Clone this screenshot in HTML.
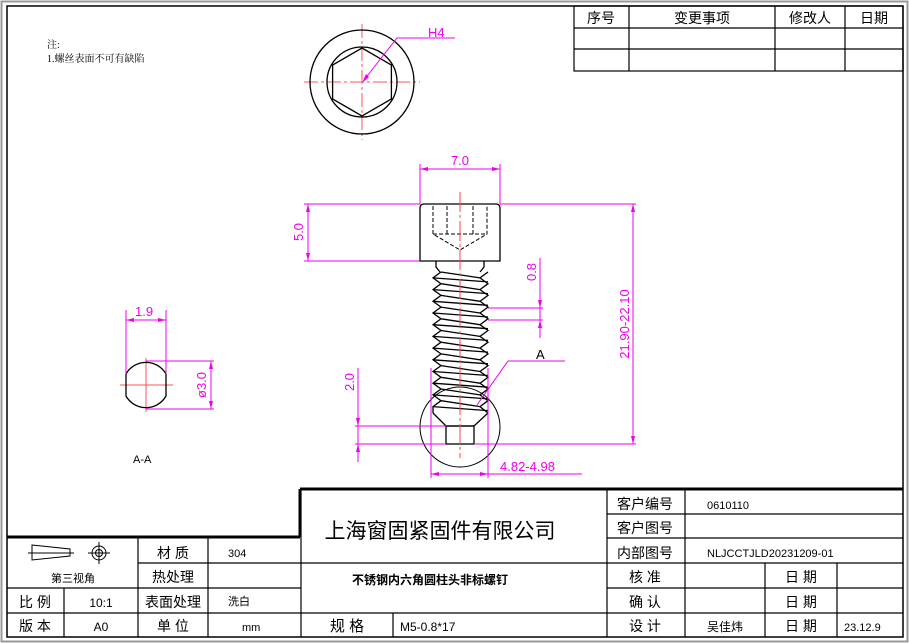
<!DOCTYPE html>
<html><head><meta charset="utf-8"><style>
html,body{margin:0;padding:0;background:#fff}
svg{display:block}
text{font-family:"Liberation Sans","Noto Sans CJK SC",sans-serif}
.cn{font-family:"Liberation Serif","Noto Serif CJK SC","Noto Sans CJK SC",serif}
</style></head><body>
<svg id="s" width="909" height="643" viewBox="0 0 909 643" xmlns="http://www.w3.org/2000/svg">
<rect x="1.5" y="1.5" width="906" height="640" fill="none" stroke="#999" stroke-width="2"/>
<rect x="7" y="6" width="896" height="631" fill="none" stroke="#000" stroke-width="1.5"/>
<text x="47" y="48" font-size="10" class="cn">注:</text>
<text x="47" y="62" font-size="10" class="cn">1.螺丝表面不可有缺陷</text>
<g stroke="#000" stroke-width="1.2" fill="none">
<rect x="574" y="6" width="329" height="65"/>
<line x1="574" y1="28" x2="903" y2="28"/><line x1="574" y1="49" x2="903" y2="49"/>
<line x1="629" y1="6" x2="629" y2="71"/><line x1="775" y1="6" x2="775" y2="71"/><line x1="845" y1="6" x2="845" y2="71"/>
</g>
<g font-size="14" text-anchor="middle" class="cn">
<text x="601" y="23">序号</text><text x="702" y="23">变更事项</text><text x="810" y="23">修改人</text><text x="874" y="23">日期</text>
</g>
<g stroke="#f55" stroke-width="1" fill="none" stroke-dasharray="14,3,3,3">
<line x1="304" y1="82" x2="420" y2="82"/><line x1="362" y1="24" x2="362" y2="140"/>
</g>
<g stroke="#000" stroke-width="1.3" fill="none">
<circle cx="362" cy="82" r="52"/><circle cx="362" cy="82" r="35"/>
<polygon points="362,48 391.4,65 391.4,99 362,116 332.6,99 332.6,65"/>
</g>
<polyline points="364,80 397,38 455,38" stroke="#e0e" fill="none"/>
<polygon points="362,83 366,74 369,77" fill="#e0e"/>
<text x="428" y="37" font-size="13" fill="#e0e">H4</text>
<g id="main" stroke="#000" stroke-width="1.3" fill="none">
<path d="M424,204 L496,204 Q500,204 500,208 L500,261 L420,261 L420,208 Q420,204 424,204 Z"/>
<g stroke-dasharray="4,2" stroke-width="1"><path d="M433,206 V234 L460,250 L487,234 V206 M447,206 V234 M473,206 V234 M433,234 H487"/></g>
<path d="M436,261 L436,267 L440,272 M484,261 L484,267 L480,272"/>
<path d="M433,413 L446,426 L474,426 L488,413"/>
<rect x="446" y="426" width="28" height="18"/>
<circle cx="460" cy="427" r="40" stroke-width="1"/>
</g>
<line x1="460" y1="192" x2="460" y2="458" stroke="#f44" stroke-dasharray="20,3,3,3"/>
<g stroke="#f55" fill="none"><line x1="120" y1="385" x2="173" y2="385"/><line x1="146" y1="358" x2="146" y2="412"/></g>
<path d="M126,374 A23,23 0 0 1 166,374 L166,396 A23,23 0 0 1 126,396 Z" fill="none" stroke="#000" stroke-width="1.3"/>
<text x="133" y="463" font-size="11">A-A</text>
<g stroke="#e0e" stroke-width="1" fill="none">
<line x1="420" y1="164" x2="420" y2="204"/><line x1="500" y1="164" x2="500" y2="204"/><line x1="420" y1="169" x2="500" y2="169"/>
<line x1="304" y1="204" x2="420" y2="204"/><line x1="304" y1="261" x2="420" y2="261"/><line x1="308" y1="204" x2="308" y2="261"/>
<line x1="500" y1="204" x2="636" y2="204"/><line x1="474" y1="444" x2="636" y2="444"/><line x1="633" y1="204" x2="633" y2="444"/>
<line x1="488" y1="308" x2="543" y2="308"/><line x1="488" y1="320" x2="543" y2="320"/><line x1="540" y1="258" x2="540" y2="338"/>
<line x1="355" y1="426" x2="446" y2="426"/><line x1="355" y1="444" x2="446" y2="444"/><line x1="358" y1="368" x2="358" y2="462"/>
<line x1="431" y1="368" x2="431" y2="478"/><line x1="488" y1="368" x2="488" y2="478"/><line x1="431" y1="474" x2="582" y2="474"/>
<polyline points="477,405 508,361 565,361"/>
<line x1="126" y1="310" x2="126" y2="374"/><line x1="166" y1="310" x2="166" y2="374"/><line x1="126" y1="320" x2="166" y2="320"/>
<line x1="146" y1="361" x2="214" y2="361"/><line x1="146" y1="409" x2="214" y2="409"/><line x1="211" y1="361" x2="211" y2="409"/>
</g>
<g fill="#e0e">
<polygon points="420,169 428,167 428,171"/><polygon points="500,169 492,167 492,171"/>
<polygon points="308,204 306,212 310,212"/><polygon points="308,261 306,253 310,253"/>
<polygon points="633,204 631,212 635,212"/><polygon points="633,444 631,436 635,436"/>
<polygon points="540,308 538,300 542,300"/><polygon points="540,320 538,328 542,328"/>
<polygon points="358,426 356,418 360,418"/><polygon points="358,444 356,452 360,452"/>
<polygon points="431,474 439,472 439,476"/><polygon points="488,474 480,472 480,476"/>
<polygon points="126,320 134,318 134,322"/><polygon points="166,320 158,318 158,322"/>
<polygon points="211,361 209,369 213,369"/><polygon points="211,409 209,401 213,401"/>
</g>
<g fill="#e0e" font-size="13">
<text x="460" y="165" text-anchor="middle">7.0</text>
<text transform="translate(303,232) rotate(-90)" text-anchor="middle">5.0</text>
<text transform="translate(629,324) rotate(-90)" text-anchor="middle">21.90-22.10</text>
<text transform="translate(536,272) rotate(-90)" text-anchor="middle">0.8</text>
<text transform="translate(354,382) rotate(-90)" text-anchor="middle">2.0</text>
<text x="500" y="471">4.82-4.98</text>
<text x="135" y="316">1.9</text>
<text transform="translate(206,385) rotate(-90)" text-anchor="middle">ø3.0</text>
</g>
<text x="536" y="359" font-size="13">A</text>
<g stroke="#000" stroke-width="1.2" fill="none">
<line x1="300" y1="489" x2="903" y2="489" stroke-width="3"/>
<line x1="300" y1="489" x2="300" y2="537" stroke-width="3"/>
<line x1="7" y1="537" x2="300" y2="537" stroke-width="3"/>
<line x1="301" y1="489" x2="301" y2="637"/>
<line x1="607" y1="489" x2="607" y2="637"/>
<line x1="685" y1="489" x2="685" y2="637"/>
<line x1="765" y1="563" x2="765" y2="637"/>
<line x1="837" y1="563" x2="837" y2="637"/>
<line x1="607" y1="514" x2="903" y2="514"/><line x1="607" y1="538" x2="903" y2="538"/>
<line x1="301" y1="563" x2="903" y2="563"/><line x1="607" y1="588" x2="903" y2="588"/>
<line x1="301" y1="613" x2="903" y2="613"/>
<line x1="393" y1="613" x2="393" y2="637"/>
<line x1="138" y1="563" x2="301" y2="563"/><line x1="7" y1="588" x2="301" y2="588"/><line x1="7" y1="613" x2="301" y2="613"/>
<line x1="64" y1="588" x2="64" y2="637"/><line x1="138" y1="537" x2="138" y2="637"/><line x1="208" y1="537" x2="208" y2="637"/>
</g>
<g stroke="#000" fill="none" stroke-width="1">
<path d="M32,545 L70,549 L70,556 L32,560 Z M28,553 H74"/>
<circle cx="99" cy="553" r="7"/><circle cx="99" cy="553" r="3.5"/><path d="M88,553 H110 M99,542 V564"/>
</g>
<g class="cn" font-size="14" text-anchor="middle">
<text x="173" y="558">材 质</text><text x="173" y="582">热处理</text><text x="173" y="607">表面处理</text><text x="173" y="631">单 位</text>
<text x="35" y="607">比 例</text><text x="35" y="631">版 本</text>
<text x="101" y="607" font-size="12">10:1</text><text x="101" y="631" font-size="12">A0</text>
<text x="347" y="631" font-size="15">规  格</text>
<text x="645" y="509">客户编号</text><text x="645" y="533">客户图号</text><text x="645" y="558">内部图号</text>
<text x="645" y="582">核  准</text><text x="645" y="607">确  认</text><text x="645" y="631">设  计</text>
<text x="801" y="582">日 期</text><text x="801" y="607">日 期</text><text x="801" y="631">日 期</text>
<text x="725" y="631" font-size="12">吴佳炜</text>
<text x="440" y="538" font-size="21">上海窗固紧固件有限公司</text>
<text x="430" y="584" font-size="12" font-weight="bold">不锈钢内六角圆柱头非标螺钉</text>
<text x="73" y="582" font-size="11">第三视角</text>
</g>
<g class="cn" font-size="11">
<text x="228" y="557">304</text><text x="228" y="605">洗白</text><text x="242" y="631">mm</text>
<text x="400" y="631" font-size="12">M5-0.8*17</text>
<text x="707" y="509">0610110</text><text x="707" y="557">NLJCCTJLD20231209-01</text>
<text x="844" y="631">23.12.9</text>
</g>
</svg>
<script>
var g=document.getElementById('main'),ns='http://www.w3.org/2000/svg';
var L='',R='',S='';var p=11.7,n=12;
for(var i=0;i<n;i++){var y=272+i*p;
L+=(i?' L':'M')+'441,'+y.toFixed(1)+' L433,'+(y+p/2).toFixed(1);
R+=(i?' L':'M')+'488,'+y.toFixed(1)+' L480,'+(y+p/2).toFixed(1);
S+=' M433,'+(y+p/2).toFixed(1)+' L488,'+(y+p/2+4).toFixed(1)+' M441,'+y.toFixed(1)+' L480,'+(y+p/2).toFixed(1);}
L+=' L433,413';R+=' L488,413';
[L,R,S].forEach(function(d){var e=document.createElementNS(ns,'path');e.setAttribute('d',d);g.appendChild(e);});
</script>
</body></html>
